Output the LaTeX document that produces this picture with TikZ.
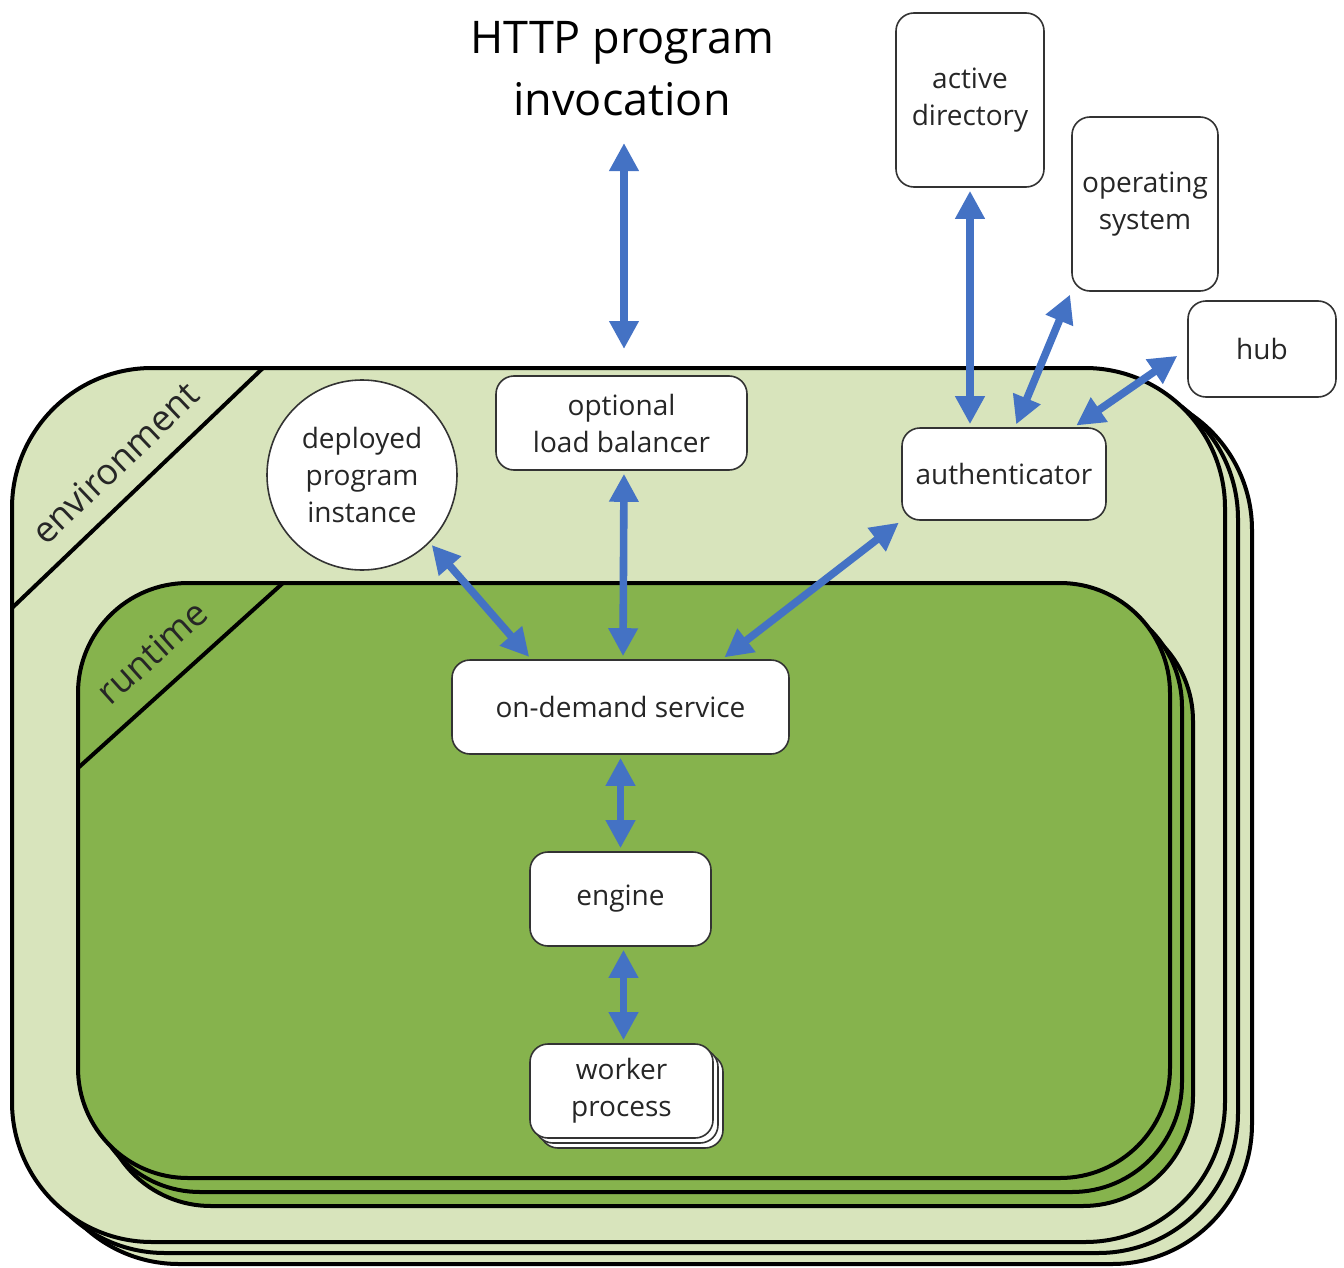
\documentclass[tikz,border=0pt]{standalone}
\usepackage{fontspec}
\setmainfont{Open Sans}
\usetikzlibrary{arrows.meta}

\definecolor{envgreen}{RGB}{216,228,188}
\definecolor{rungreen}{RGB}{134,179,77}
\definecolor{linkblue}{RGB}{68,114,196}

\begin{document}
\begin{tikzpicture}[x=0.5pt,y=0.5pt,yscale=-1,xscale=1,
  box/.style={draw=black!80,fill=white,line width=0.8pt,rounded corners=9pt,inner sep=0pt,align=center,font=\fontsize{14}{18.5}\selectfont,text=black!85},
  envshape/.style={draw=black,fill=envgreen,line width=2pt,rounded corners=70pt},
  runshape/.style={draw=black,fill=rungreen,line width=2pt,rounded corners=55pt},
  link/.style={linkblue,line width=3.8pt,{Triangle[length=14pt,width=14pt]}-{Triangle[length=14pt,width=14pt]},shorten <=1.5pt,shorten >=1.5pt},
  tag/.style={font=\fontsize{18}{22}\selectfont,text=black!85,inner sep=0pt}]
\path[use as bounding box] (0,0) rectangle (1344,1268);

%Shape: Environment stack
\draw[envshape] (39,390) rectangle (1252,1264);
\draw[envshape] (25,379) rectangle (1238,1253);
\draw[envshape] (12,368) rectangle (1225,1242);
%Straight Lines
\draw[line width=2pt] (263,368) -- (12,608);
%Shape: Runtime stack
\draw[runshape] (101,611) rectangle (1193,1206);
\draw[runshape] (90,597) rectangle (1182,1192);
\draw[runshape] (78,583) rectangle (1170,1178);
%Straight Lines
\draw[line width=2pt] (283,583) -- (78,768);

% Text Node
\draw (115,463) node [tag,rotate=43.7] (envlabel) {environment};
% Text Node
\draw (152,652) node [tag,rotate=42] (runlabel) {runtime};
% Text Node
\draw (622,116) node [anchor=south,inner sep=0pt,align=center,font=\fontsize{22.5}{31}\selectfont] (httptext) {HTTP program\\invocation};

% Boxes
\draw (970,100) node [box,minimum width=74pt,minimum height=87pt] (activedir) {active\\directory};
\draw (1145,204) node [box,minimum width=73pt,minimum height=87pt] (opsys) {operating\\system};
\draw (1262,349) node [box,minimum width=74pt,minimum height=48pt] (hub) {hub};
\draw (1004,474) node [box,minimum width=102pt,minimum height=46pt] (auth) {authenticator};
\draw (621.5,423) node [box,minimum width=125.5pt,minimum height=47pt] (loadbal) {optional\\load balancer};
\draw (362,475) node [box,circle,minimum size=95pt] (deployed) {deployed\\program\\instance};
\draw (620.5,707) node [box,minimum width=168.5pt,minimum height=47pt] (ondemand) {on-demand service};
\draw (620.5,899) node [box,minimum width=90.5pt,minimum height=47pt] (engine) {engine};
%Shape: worker copies
\draw[box] (540,1054) rectangle (723,1148);
\draw[box] (535,1049) rectangle (718,1143);
\draw (621.5,1091) node [box,minimum width=91.5pt,minimum height=47pt] (worker) {worker\\process};

% Arrows
\coordinate (httpport) at (624,352);
\draw[link,shorten <=13.5pt] ([xshift=1pt]httptext.south) -- (httpport);
\draw[link] ([xshift=1.25pt]loadbal.south) -- ([xshift=1.25pt]ondemand.north);
\draw[link] (deployed.-45) -- ([xshift=40pt]ondemand.north west);
\draw[link] (auth.south west) -- ([xshift=50.75pt]ondemand.north);
\draw[link] (ondemand.south) -- (engine.north);
\draw[link] ([xshift=1.5pt]engine.south) -- ([xshift=1.5pt]engine.south |- worker.north);
\draw[link] (activedir.south) -- (activedir.south |- auth.north);
\draw[link] (opsys.south west) -- ([xshift=5.5pt]auth.north);
\draw[link,shorten <=6pt] (hub.west) -- ([xshift=-16.5pt]auth.north east);

\end{tikzpicture}
\end{document}
